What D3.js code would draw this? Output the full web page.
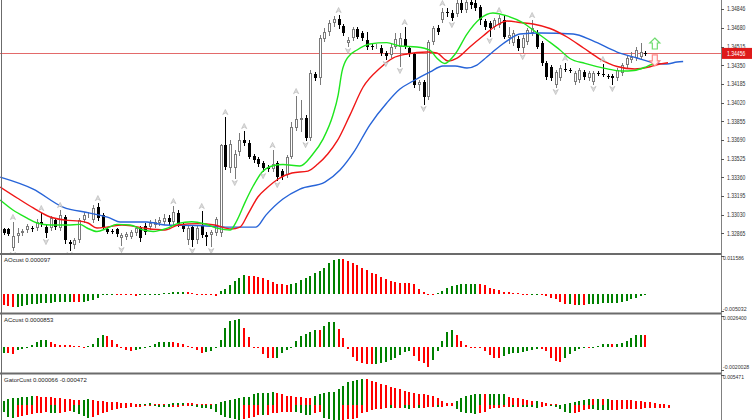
<!DOCTYPE html>
<html>
<head>
<meta charset="utf-8">
<script src="https://cdn.jsdelivr.net/npm/d3@7"></script>
<style>
  body { margin: 0; background: #ffffff; }
  #viz { width: 752px; height: 420px; overflow: hidden; }
  text { font-family: "Liberation Sans", Arial, sans-serif; }
</style>
</head>
<body>
<div id="viz"></div>
<script>
// ---- data ----

var tickPrices = [1.34846, 1.34680, 1.34515, 1.34350, 1.34185, 1.34020, 1.33855,
                  1.33690, 1.33525, 1.33360, 1.33195, 1.33030, 1.32865];

var opens = [
  1.32904, 1.32904, 1.32736, 1.32842, 1.32868, 1.32895, 1.32913, 1.32913, 1.32966, 1.32921,
  1.32913, 1.32983, 1.32913, 1.33010, 1.32789, 1.32762, 1.32806, 1.32983, 1.33027, 1.32983,
  1.33098, 1.33027, 1.32904, 1.32886, 1.32904, 1.32824, 1.32833, 1.32833, 1.32868, 1.32913,
  1.32930, 1.32921, 1.32939, 1.32957, 1.32966, 1.33001, 1.32966, 1.33045, 1.32948, 1.32806,
  1.32921, 1.32806, 1.32939, 1.32851, 1.32851, 1.32868, 1.32868, 1.33646, 1.33443, 1.33443,
  1.33584, 1.33690, 1.33664, 1.33549, 1.33522, 1.33487, 1.33452, 1.33434, 1.33487, 1.33416,
  1.33381, 1.33540, 1.33796, 1.33867, 1.33885, 1.33708, 1.34274, 1.34239, 1.34583, 1.34645,
  1.34725, 1.34760, 1.34698, 1.34548, 1.34592, 1.34672, 1.34636, 1.34574, 1.34521, 1.34513,
  1.34504, 1.34460, 1.34442, 1.34513, 1.34513, 1.34583, 1.34504, 1.34451, 1.34177, 1.34203,
  1.34070, 1.34557, 1.34680, 1.34751, 1.34822, 1.34813, 1.34804, 1.34901, 1.34840, 1.34910,
  1.34901, 1.34866, 1.34742, 1.34725, 1.34689, 1.34707, 1.34751, 1.34592, 1.34548, 1.34583,
  1.34504, 1.34557, 1.34636, 1.34636, 1.34548, 1.34371, 1.34336, 1.34177, 1.34239, 1.34318,
  1.34309, 1.34203, 1.34221, 1.34292, 1.34239, 1.34203, 1.34283, 1.34274, 1.34256, 1.34256,
  1.34239, 1.34283, 1.34353, 1.34398, 1.34415, 1.34424, 1.34460
];
var highs = [
  1.32913, 1.32913, 1.32966, 1.32913, 1.32904, 1.32948, 1.32930, 1.32992, 1.33045, 1.32948,
  1.33019, 1.33001, 1.33072, 1.33027, 1.32806, 1.32824, 1.33001, 1.33054, 1.33054, 1.33116,
  1.33133, 1.33045, 1.32921, 1.32904, 1.32913, 1.32868, 1.32877, 1.32895, 1.32930, 1.32930,
  1.32957, 1.32983, 1.32992, 1.33010, 1.33036, 1.33027, 1.33107, 1.33072, 1.32966, 1.32930,
  1.32939, 1.32930, 1.33063, 1.32877, 1.32895, 1.33010, 1.33655, 1.33894, 1.33690, 1.33602,
  1.33752, 1.33770, 1.33690, 1.33567, 1.33540, 1.33505, 1.33469, 1.33602, 1.33505, 1.33434,
  1.33558, 1.33850, 1.34079, 1.34044, 1.33911, 1.34309, 1.34292, 1.34619, 1.34680, 1.34751,
  1.34787, 1.34795, 1.34716, 1.34601, 1.34689, 1.34689, 1.34654, 1.34645, 1.34539, 1.34539,
  1.34530, 1.34477, 1.34539, 1.34636, 1.34636, 1.34689, 1.34521, 1.34460, 1.34221, 1.34221,
  1.34574, 1.34698, 1.34707, 1.34857, 1.34857, 1.34840, 1.34955, 1.34955, 1.34955, 1.34955,
  1.34955, 1.34884, 1.34760, 1.34742, 1.34769, 1.34795, 1.34795, 1.34689, 1.34663, 1.34610,
  1.34619, 1.34680, 1.34751, 1.34663, 1.34566, 1.34389, 1.34353, 1.34309, 1.34353, 1.34371,
  1.34327, 1.34300, 1.34327, 1.34309, 1.34300, 1.34300, 1.34300, 1.34362, 1.34274, 1.34274,
  1.34327, 1.34371, 1.34433, 1.34468, 1.34513, 1.34548, 1.34477
];
var lows = [
  1.32860, 1.32851, 1.32718, 1.32789, 1.32851, 1.32877, 1.32886, 1.32895, 1.32930, 1.32833,
  1.32895, 1.32904, 1.32895, 1.32780, 1.32718, 1.32736, 1.32789, 1.32966, 1.33010, 1.32966,
  1.32983, 1.32904, 1.32868, 1.32868, 1.32842, 1.32762, 1.32815, 1.32824, 1.32851, 1.32798,
  1.32860, 1.32904, 1.32921, 1.32939, 1.32948, 1.32948, 1.32948, 1.32930, 1.32886, 1.32771,
  1.32753, 1.32780, 1.32833, 1.32762, 1.32753, 1.32851, 1.32842, 1.33434, 1.33408, 1.33355,
  1.33558, 1.33646, 1.33531, 1.33496, 1.33461, 1.33416, 1.33416, 1.33416, 1.33337, 1.33346,
  1.33363, 1.33531, 1.33779, 1.33770, 1.33690, 1.33690, 1.34221, 1.34186, 1.34566, 1.34619,
  1.34698, 1.34680, 1.34619, 1.34521, 1.34574, 1.34592, 1.34574, 1.34495, 1.34495, 1.34504,
  1.34442, 1.34406, 1.34424, 1.34504, 1.34345, 1.34504, 1.34433, 1.34159, 1.34132, 1.34009,
  1.34053, 1.34539, 1.34627, 1.34734, 1.34787, 1.34751, 1.34787, 1.34822, 1.34822, 1.34857,
  1.34840, 1.34716, 1.34672, 1.34610, 1.34672, 1.34689, 1.34592, 1.34548, 1.34530, 1.34486,
  1.34468, 1.34539, 1.34619, 1.34504, 1.34353, 1.34230, 1.34221, 1.34159, 1.34221, 1.34300,
  1.34292, 1.34186, 1.34203, 1.34230, 1.34221, 1.34186, 1.34265, 1.34256, 1.34239, 1.34186,
  1.34221, 1.34265, 1.34336, 1.34380, 1.34398, 1.34415, 1.34442
];
var closes = [
  1.32868, 1.32860, 1.32842, 1.32868, 1.32886, 1.32930, 1.32904, 1.32966, 1.32948, 1.32868,
  1.33001, 1.32921, 1.33027, 1.32806, 1.32771, 1.32806, 1.32983, 1.33027, 1.33036, 1.33090,
  1.33001, 1.32921, 1.32877, 1.32877, 1.32860, 1.32851, 1.32860, 1.32877, 1.32913, 1.32824,
  1.32877, 1.32957, 1.32966, 1.32983, 1.33001, 1.32966, 1.33054, 1.32948, 1.32904, 1.32913,
  1.32806, 1.32913, 1.32851, 1.32833, 1.32877, 1.32992, 1.33646, 1.33452, 1.33655, 1.33567,
  1.33690, 1.33664, 1.33540, 1.33514, 1.33478, 1.33443, 1.33434, 1.33478, 1.33363, 1.33363,
  1.33540, 1.33805, 1.33876, 1.33885, 1.33708, 1.34283, 1.34239, 1.34592, 1.34645, 1.34725,
  1.34760, 1.34707, 1.34636, 1.34574, 1.34672, 1.34601, 1.34592, 1.34513, 1.34513, 1.34521,
  1.34460, 1.34433, 1.34513, 1.34583, 1.34592, 1.34513, 1.34451, 1.34177, 1.34203, 1.34070,
  1.34557, 1.34680, 1.34645, 1.34822, 1.34813, 1.34769, 1.34901, 1.34840, 1.34910, 1.34884,
  1.34857, 1.34751, 1.34689, 1.34680, 1.34751, 1.34769, 1.34601, 1.34619, 1.34636, 1.34504,
  1.34592, 1.34663, 1.34680, 1.34513, 1.34371, 1.34247, 1.34239, 1.34292, 1.34327, 1.34309,
  1.34300, 1.34283, 1.34309, 1.34247, 1.34283, 1.34283, 1.34274, 1.34265, 1.34247, 1.34239,
  1.34309, 1.34353, 1.34415, 1.34424, 1.34486, 1.34468, 1.34456
];

var lastPrice = 1.34456;

// alligator lines, [bar, price]
var jawLine = [[-0.7,1.33363],[6.3,1.33257],[12.6,1.33098],[18.3,1.33045],[22.6,1.33001],[24.7,1.32966],
  [30.4,1.32966],[34.2,1.32939],[41.2,1.32935],[47.1,1.32921],[53.5,1.32921],[55.6,1.33027],[59.2,1.33169],
  [62.8,1.33257],[68.1,1.33319],[71.3,1.33425],[74.1,1.33576],[77.6,1.33823],[81.2,1.34018],[84,1.34141],
  [86.8,1.34212],[90.4,1.34292],[93.1,1.34345],[95.7,1.34345],[98.2,1.34327],[100.3,1.34353],[102.4,1.34424],
  [105.2,1.34521],[106.7,1.34566],[109.4,1.34627],[113.7,1.34636],[120.7,1.34627],[124.9,1.34566],[130,1.34468],
  [134.2,1.34415],[137.6,1.34376],[140.5,1.34362],[142.7,1.34380],[144,1.34384]];
var teethLine = [[-0.7,1.33275],[2.9,1.33178],[6.3,1.33090],[9.9,1.33010],[13,1.32983],[16.2,1.32974],
  [17.9,1.32957],[19.8,1.32913],[21.9,1.32921],[25.1,1.32939],[27.4,1.32930],[30.4,1.32908],[34.2,1.32895],
  [37,1.32939],[41.2,1.32952],[44.8,1.32939],[48.2,1.32904],[50.1,1.32921],[51.8,1.33036],[53.9,1.33187],
  [55.8,1.33266],[58.2,1.33346],[61.1,1.33399],[64.5,1.33416],[66.6,1.33478],[68.7,1.33567],[70.7,1.33682],
  [73.4,1.33911],[76.2,1.34159],[79.8,1.34327],[82.5,1.34415],[85.5,1.34451],[89.7,1.34468],[91.8,1.34460],
  [94.2,1.34389],[96.1,1.34415],[98.8,1.34513],[101.6,1.34610],[104.6,1.34707],[106.7,1.34742],[109.4,1.34729],
  [112.2,1.34716],[115.8,1.34676],[119.4,1.34601],[122.9,1.34504],[126.4,1.34406],[130,1.34340],[133.8,1.34318],
  [137,1.34338],[139.1,1.34362],[140.8,1.34374]];
var lipsLine = [[-0.7,1.33160],[2,1.33072],[5,1.33001],[7.1,1.32957],[9.9,1.32939],[13.5,1.32939],
  [16.2,1.32945],[17.7,1.32913],[19.8,1.32882],[21.9,1.32910],[24,1.32945],[26.8,1.32939],[29.6,1.32895],
  [31.7,1.32882],[34.6,1.32910],[37,1.32954],[39.9,1.32968],[42.7,1.32948],[45.4,1.32910],[48,1.32895],
  [49.5,1.32983],[51.2,1.33142],[52.9,1.33284],[54.8,1.33408],[56.9,1.33461],[59.2,1.33474],[62.8,1.33461],
  [65.4,1.33558],[67.7,1.33699],[69.8,1.33911],[70.9,1.34088],[71.7,1.34292],[73,1.34424],[74.9,1.34486],
  [77.6,1.34539],[81.2,1.34551],[84,1.34521],[87.6,1.34513],[90.4,1.34482],[91.8,1.34415],[93.5,1.34367],
  [95.7,1.34451],[98.2,1.34627],[100.9,1.34760],[103.7,1.34813],[106.7,1.34787],[110.1,1.34725],[112.2,1.34663],
  [115.4,1.34566],[117.9,1.34486],[120,1.34411],[123.2,1.34368],[127.4,1.34324],[131,1.34300],[133.6,1.34305],
  [136.3,1.34340],[139,1.34389]];

var upFractals = [2, 8, 12, 20, 36, 42, 47, 51, 57, 62, 71, 85, 93, 105, 112, 119, 127];
var downFractals = [2, 9, 14, 25, 40, 44, 49, 55, 58, 64, 73, 81, 84, 89, 95, 103, 110, 117, 125, 129];

// signal arrows: [bar, tip price]
var buySignal = [138, 1.34592];
var sellSignal = [138, 1.34345];

var aoValues = [
  -0.00332, -0.00353, -0.00371, -0.00368, -0.00353, -0.00332, -0.00302, -0.00281, -0.00272, -0.00251,
  -0.00248, -0.00233, -0.00230, -0.00220, -0.00217, -0.00230, -0.00233, -0.00220, -0.00202, -0.00172,
  -0.00100, -0.00030, -0.00009, 0.00006, -0.00003, -0.00015, -0.00030, -0.00033, -0.00040, -0.00030,
  -0.00020, -0.00010, 0.00010, 0.00020, 0.00040, 0.00050, 0.00060, 0.00062, 0.00070, 0.00060,
  0.00040, 0.00010, -0.00010, -0.00020, -0.00030, -0.00040, 0.00091, 0.00172, 0.00272, 0.00393,
  0.00504, 0.00574, 0.00553, 0.00550, 0.00535, 0.00504, 0.00432, 0.00384, 0.00323, 0.00302,
  0.00281, 0.00302, 0.00353, 0.00423, 0.00483, 0.00553, 0.00634, 0.00704, 0.00806, 0.00936,
  0.01036, 0.01057, 0.01054, 0.01006, 0.00957, 0.00885, 0.00806, 0.00734, 0.00655, 0.00604,
  0.00522, 0.00453, 0.00402, 0.00371, 0.00353, 0.00350, 0.00332, 0.00302, 0.00172, 0.00069,
  0.00009, 0.00003, 0.00030, 0.00100, 0.00181, 0.00251, 0.00293, 0.00311, 0.00323, 0.00325,
  0.00326, 0.00311, 0.00272, 0.00202, 0.00151, 0.00121, 0.00082, 0.00069, 0.00051, 0.00030,
  0.00009, 0.00003, 0.00006, 0.00009, -0.00021, -0.00051, -0.00100, -0.00151, -0.00220, -0.00302,
  -0.00299, -0.00311, -0.00308, -0.00314, -0.00302, -0.00300, -0.00299, -0.00272, -0.00269, -0.00263,
  -0.00251, -0.00233, -0.00202, -0.00151, -0.00112, -0.00060, 0.000097
];
var acValues = [
  -0.00050, -0.00054, -0.00060, -0.00026, -0.00017, -0.00009, 0.00017, 0.00037, 0.00054, 0.00060,
  0.00037, 0.00020, 0.00017, 0.00016, 0.00011, 0.00009, 0.00003, -0.00003, 0.00009, 0.00023,
  0.00075, 0.00103, 0.00089, 0.00054, 0.00026, -0.00006, -0.00028, -0.00040, -0.00026, -0.00020,
  -0.00009, 0.00003, 0.00023, 0.00037, 0.00043, 0.00044, 0.00037, 0.00032, 0.00023, 0.00003,
  -0.00006, -0.00026, -0.00051, -0.00049, -0.00034, -0.00011, 0.00060, 0.00157, 0.00218, 0.00232,
  0.00238, 0.00161, 0.00080, -0.00003, -0.00015, -0.00063, -0.00097, -0.00098, -0.00097, -0.00054,
  -0.00026, -0.00006, 0.00046, 0.00095, 0.00112, 0.00123, 0.00146, 0.00144, 0.00175, 0.00209,
  0.00212, 0.00155, 0.00075, -0.00020, -0.00089, -0.00120, -0.00140, -0.00149, -0.00150, -0.00148,
  -0.00140, -0.00132, -0.00118, -0.00097, -0.00069, -0.00046, -0.00034, -0.00077, -0.00120, -0.00140,
  -0.00175, -0.00112, -0.00034, 0.00046, 0.00123, 0.00146, 0.00103, 0.00046, 0.00017, -0.00003,
  -0.00009, -0.00015, -0.00037, -0.00071, -0.00097, -0.00098, -0.00083, -0.00063, -0.00054, -0.00053,
  -0.00049, -0.00040, -0.00026, -0.00017, -0.00018, -0.00040, -0.00097, -0.00120, -0.00132, -0.00097,
  -0.00060, -0.00034, -0.00017, -0.00010, -0.00011, -0.00007, 0.00007, 0.00020, 0.00021, 0.00019,
  0.00022, 0.00034, 0.00049, 0.00077, 0.00097, 0.00101, 0.00097
];
var gatorUp = [
  0.00078, 0.00104, 0.00122, 0.00133, 0.00146, 0.00151, 0.00158, 0.00157, 0.00151, 0.00146,
  0.00140, 0.00127, 0.00122, 0.00109, 0.00104, 0.00096, 0.00091, 0.00096, 0.00104, 0.00096,
  0.00078, 0.00073, 0.00060, 0.00055, 0.00049, 0.00042, 0.00036, 0.00031, 0.00024, 0.00025,
  0.00027, 0.00031, 0.00027, 0.00024, 0.00022, 0.00025, 0.00031, 0.00036, 0.00042, 0.00036,
  0.00031, 0.00027, 0.00024, 0.00018, 0.00013, 0.00024, 0.00049, 0.00073, 0.00096, 0.00115,
  0.00127, 0.00140, 0.00151, 0.00200, 0.00213, 0.00215, 0.00224, 0.00237, 0.00213, 0.00195,
  0.00169, 0.00167, 0.00151, 0.00140, 0.00122, 0.00120, 0.00169, 0.00200, 0.00224, 0.00231,
  0.00242, 0.00291, 0.00351, 0.00413, 0.00442, 0.00455, 0.00468, 0.00466, 0.00437, 0.00413,
  0.00382, 0.00364, 0.00333, 0.00315, 0.00286, 0.00260, 0.00231, 0.00213, 0.00200, 0.00195,
  0.00187, 0.00169, 0.00122, 0.00078, 0.00042, 0.00031, 0.00073, 0.00122, 0.00164, 0.00182,
  0.00195, 0.00200, 0.00198, 0.00200, 0.00202, 0.00204, 0.00206, 0.00151, 0.00133, 0.00122,
  0.00109, 0.00091, 0.00078, 0.00080, 0.00060, 0.00031, 0.00018, 0.00013, 0.00004, 0.00018,
  0.00042, 0.00060, 0.00078, 0.00096, 0.00109, 0.00107, 0.00109, 0.00104, 0.00106, 0.00096,
  0.00095, 0.00091, 0.00089, 0.00086, 0.00078, 0.00073, 0.00060, 0.00049, 0.00036, 0.00024,
  0.00013, 0.000066
];
var gatorDown = [
  -0.00122, -0.00213, -0.00242, -0.00224, -0.00206, -0.00187, -0.00169, -0.00151, -0.00140, -0.00133,
  -0.00140, -0.00151, -0.00140, -0.00127, -0.00115, -0.00127, -0.00169, -0.00206, -0.00237, -0.00218,
  -0.00187, -0.00151, -0.00122, -0.00091, -0.00073, -0.00060, -0.00049, -0.00042, -0.00036, -0.00031,
  -0.00024, -0.00018, -0.00024, -0.00031, -0.00036, -0.00042, -0.00036, -0.00031, -0.00024, -0.00018,
  -0.00024, -0.00036, -0.00049, -0.00060, -0.00073, -0.00127, -0.00182, -0.00218, -0.00242, -0.00255,
  -0.00268, -0.00260, -0.00242, -0.00213, -0.00182, -0.00184, -0.00180, -0.00151, -0.00140, -0.00133,
  -0.00127, -0.00122, -0.00124, -0.00151, -0.00182, -0.00184, -0.00151, -0.00122, -0.00240, -0.00255,
  -0.00265, -0.00270, -0.00268, -0.00262, -0.00250, -0.00230, -0.00151, -0.00122, -0.00091, -0.00078,
  -0.00067, -0.00060, -0.00062, -0.00060, -0.00055, -0.00060, -0.00067, -0.00055, -0.00060, -0.00049,
  -0.00042, -0.00031, -0.00042, -0.00031, -0.00018, -0.00013, -0.00078, -0.00127, -0.00151, -0.00153,
  -0.00155, -0.00151, -0.00122, -0.00078, -0.00060, -0.00055, -0.00042, -0.00031, -0.00033, -0.00031,
  -0.00033, -0.00036, -0.00042, -0.00055, -0.00031, -0.00018, -0.00020, -0.00031, -0.00078, -0.00122,
  -0.00151, -0.00140, -0.00122, -0.00091, -0.00078, -0.00080, -0.00091, -0.00096, -0.00097, -0.00091,
  -0.00086, -0.00078, -0.00073, -0.00069, -0.00066, -0.00064, -0.00062, -0.00058, -0.00055, -0.00051,
  -0.00049, -0.000472
];

var panelTitles = ["AOcust 0.000097", "ACcust 0.0000853", "GatorCust 0.000066 -0.000472"];
var aoRange = [-0.005032, 0.011586];
var acRange = [-0.0020028, 0.0026400];
var gatorRange = [-0.00273, 0.005471];
var aoRangeText = ["-0.005032", "0.011586"];
var acRangeText = ["-0.0020028", "0.0026400"];
var gatorRangeText = [null, "0.005471"];

// ---- layout ----
var width = 752,
    height = 420,
    axisX = 721;

var upColor = "#008000",
    downColor = "#ff0000";

// right-hand labels are squeezed like the terminal's narrow font
var charW = 2.62;

var svg = d3.select("#viz").append("svg")
    .attr("width", width)
    .attr("height", height)
    .style("display", "block");

svg.append("rect")
    .attr("width", width)
    .attr("height", height)
    .attr("fill", "#ffffff");

/* scales */

var x = d3.scaleLinear()
    .domain([0, 152])
    .range([3.5, 720.9]);

var yMain = d3.scaleLinear()
    .domain([1.32692, 1.34928])
    .range([253, 0]);

var yAO = d3.scaleLinear().domain(aoRange).range([311, 256]);
var yAC = d3.scaleLinear().domain(acRange).range([370, 316]);
var yGator = d3.scaleLinear().domain(gatorRange).range([420, 375]);

/* clip regions for the four windows */

var defs = svg.append("defs");
function addClip(id, top, bottom) {
  defs.append("clipPath").attr("id", id)
    .append("rect")
    .attr("x", 0).attr("y", top)
    .attr("width", axisX).attr("height", bottom - top);
}
addClip("clipMain", 0, 253);
addClip("clipAO", 255, 313);
addClip("clipAC", 315, 373);
addClip("clipGator", 375, 420);

var main = svg.append("g").attr("clip-path", "url(#clipMain)");

// current price line
main.append("line")
    .attr("x1", 0).attr("x2", axisX)
    .attr("y1", Math.round(yMain(lastPrice)) + 0.5)
    .attr("y2", Math.round(yMain(lastPrice)) + 0.5)
    .attr("stroke", "#e36a6a")
    .attr("stroke-width", 1);

/* candles */

var candles = closes.map(function(c, i) {
  return {i: i, o: opens[i], h: highs[i], l: lows[i], c: c};
});

var candleG = main.append("g").attr("class", "candles");

candleG.selectAll("line")
    .data(candles)
    .enter()
    .append("line")
    .attr("x1", function(d) { return Math.round(x(d.i)) + 0.5; })
    .attr("x2", function(d) { return Math.round(x(d.i)) + 0.5; })
    .attr("y1", function(d) { return Math.round(yMain(d.h)); })
    .attr("y2", function(d) { return Math.round(yMain(d.l)) + 1; })
    .attr("stroke", function(d) { return d.c >= d.o ? "#7a7a7a" : "#000000"; })
    .attr("stroke-width", 1)
    .attr("shape-rendering", "crispEdges");

candleG.selectAll("rect")
    .data(candles)
    .enter()
    .append("rect")
    .attr("shape-rendering", "crispEdges")
    .each(function(d) {
      var cx = Math.round(x(d.i));
      var top = Math.round(yMain(Math.max(d.o, d.c)));
      var h = Math.max(1, Math.round(Math.abs(yMain(d.o) - yMain(d.c))));
      var el = d3.select(this);
      if (d.c >= d.o) {
        el.attr("x", cx - 0.5).attr("y", top + 0.5)
          .attr("width", 2).attr("height", Math.max(0, h - 1))
          .attr("fill", "#ffffff")
          .attr("stroke", "#7a7a7a").attr("stroke-width", 1);
      } else {
        el.attr("x", cx - 1).attr("y", top)
          .attr("width", 3).attr("height", h)
          .attr("fill", "#000000");
      }
    });

/* alligator */

var priceLine = d3.line()
    .x(function(d) { return x(d[0]); })
    .y(function(d) { return yMain(d[1]); })
    .curve(d3.curveMonotoneX);

var alligator = [
  {points: jawLine, color: "#2764d8"},
  {points: teethLine, color: "#f01616"},
  {points: lipsLine, color: "#1ee61e"}
];

main.append("g")
    .selectAll("path")
    .data(alligator)
    .enter()
    .append("path")
    .attr("d", function(d) { return priceLine(d.points); })
    .attr("fill", "none")
    .attr("stroke", function(d) { return d.color; })
    .attr("stroke-width", 1.4);

/* fractals */

var fractalG = main.append("g").attr("class", "fractals");

fractalG.selectAll("path.up")
    .data(upFractals)
    .enter()
    .append("path")
    .attr("class", "up")
    .attr("d", function(i) {
      var cx = x(i), cy = yMain(highs[i]) - 5;
      return "M" + (cx - 2.6) + "," + (cy + 2.6) + "L" + cx + "," + (cy - 2.6) +
             "L" + (cx + 2.6) + "," + (cy + 2.6) + "L" + cx + "," + (cy + 1) + "Z";
    })
    .attr("fill", "#dedede")
    .attr("stroke", "#a9a9a9")
    .attr("stroke-width", 0.5);

fractalG.selectAll("path.down")
    .data(downFractals)
    .enter()
    .append("path")
    .attr("class", "down")
    .attr("d", function(i) {
      var cx = x(i), cy = yMain(lows[i]) + 5;
      return "M" + (cx - 2.6) + "," + (cy - 2.6) + "L" + cx + "," + (cy + 2.6) +
             "L" + (cx + 2.6) + "," + (cy - 2.6) + "L" + cx + "," + (cy - 1) + "Z";
    })
    .attr("fill", "#dedede")
    .attr("stroke", "#a9a9a9")
    .attr("stroke-width", 0.5);

/* signal arrows */

function blockArrow(tx, ty, dir) {
  // dir = 1 points up, -1 points down
  var s = dir;
  return "M" + tx + "," + ty +
    "L" + (tx + 5) + "," + (ty + 5 * s) +
    "L" + (tx + 2.5) + "," + (ty + 5 * s) +
    "L" + (tx + 2.5) + "," + (ty + 11 * s) +
    "L" + (tx - 2.5) + "," + (ty + 11 * s) +
    "L" + (tx - 2.5) + "," + (ty + 5 * s) +
    "L" + (tx - 5) + "," + (ty + 5 * s) + "Z";
}

svg.append("path")
    .attr("d", blockArrow(x(buySignal[0]), yMain(buySignal[1]), 1))
    .attr("fill", "#ffffff")
    .attr("stroke", "#6fdc6f")
    .attr("stroke-width", 1.2);

svg.append("path")
    .attr("d", blockArrow(x(sellSignal[0]), yMain(sellSignal[1]), -1))
    .attr("fill", "#fff4f4")
    .attr("stroke", "#ff8a8a")
    .attr("stroke-width", 1.2);

/* histograms */

function drawHist(values, yScale, clipId, firstUp, magnitude) {
  var g = svg.append("g").attr("clip-path", "url(#" + clipId + ")");
  var zero = yScale(0);
  g.selectAll("rect")
      .data(values)
      .enter()
      .append("rect")
      .attr("shape-rendering", "crispEdges")
      .attr("x", function(d, i) { return Math.round(x(i)) - 1; })
      .attr("width", 2)
      .attr("y", function(d) { return Math.min(zero, yScale(d)); })
      .attr("height", function(d) { return Math.max(1, Math.abs(yScale(d) - zero)); })
      .attr("fill", function(d, i) {
        if (i == 0) return firstUp ? upColor : downColor;
        var prev = values[i - 1];
        var rising = magnitude ? Math.abs(d) > Math.abs(prev) : d > prev;
        return rising ? upColor : downColor;
      });
}

drawHist(aoValues, yAO, "clipAO", false, false);
drawHist(acValues, yAC, "clipAC", true, false);
drawHist(gatorUp, yGator, "clipGator", true, true);
drawHist(gatorDown, yGator, "clipGator", true, true);

/* window separators and frame */

[253, 312.5, 372.5].forEach(function(yy) {
  svg.append("rect")
      .attr("x", 0).attr("y", yy)
      .attr("width", axisX).attr("height", 2)
      .attr("fill", "#6b6b6b");
});

svg.append("line")
    .attr("x1", 1.5).attr("x2", 1.5)
    .attr("y1", 0).attr("y2", height)
    .attr("stroke", "#6b6b6b");

svg.append("line")
    .attr("x1", axisX + 0.5).attr("x2", axisX + 0.5)
    .attr("y1", 0).attr("y2", height)
    .attr("stroke", "#808080");

/* price axis */

function axisLabel(txt, xx, yy, color, size) {
  return svg.append("text")
      .attr("x", xx)
      .attr("y", yy)
      .attr("dy", "0.35em")
      .attr("font-size", (size || 6.3) + "px")
      .attr("fill", color)
      .attr("textLength", txt.length * charW)
      .attr("lengthAdjust", "spacingAndGlyphs")
      .text(txt);
}

var axisG = svg.append("g").attr("class", "axis");

axisG.selectAll("line")
    .data(tickPrices)
    .enter()
    .append("line")
    .attr("x1", axisX).attr("x2", axisX + 3)
    .attr("y1", function(d) { return Math.round(yMain(d)) + 0.5; })
    .attr("y2", function(d) { return Math.round(yMain(d)) + 0.5; })
    .attr("stroke", "#555");

tickPrices.forEach(function(p) {
  axisLabel(d3.format(".5f")(p), axisX + 6, yMain(p), "#333");
});

// last price label
svg.append("rect")
    .attr("x", axisX + 1).attr("y", yMain(lastPrice) - 5.5)
    .attr("width", width - axisX - 1).attr("height", 11)
    .attr("fill", "#de1a1a");
axisLabel(d3.format(".5f")(lastPrice), axisX + 6, yMain(lastPrice), "#ffffff");

/* sub-window scale labels and titles */

var subs = [
  {scale: yAO, range: aoRange, text: aoRangeText, title: panelTitles[0], top: 255},
  {scale: yAC, range: acRange, text: acRangeText, title: panelTitles[1], top: 315},
  {scale: yGator, range: gatorRange, text: gatorRangeText, title: panelTitles[2], top: 375}
];

subs.forEach(function(s) {
  svg.append("text")
      .attr("x", 4).attr("y", s.top + 7)
      .attr("font-size", "6px")
      .attr("fill", "#222")
      .text(s.title);

  for (var k = 0; k < 2; k++) {
    if (!s.text[k]) continue;
    var yy = s.scale(s.range[k]);
    svg.append("line")
        .attr("x1", axisX).attr("x2", axisX + 3)
        .attr("y1", Math.round(yy) + 0.5).attr("y2", Math.round(yy) + 0.5)
        .attr("stroke", "#555");
    // long labels use a slightly smaller size so they stay inside the frame
    axisLabel(s.text[k], axisX + 2, yy + (k == 1 ? 2 : -2.5), "#333",
              s.text[k].length > 9 ? 5.4 : 6.1);
  }
});
</script>
</body>
</html>
